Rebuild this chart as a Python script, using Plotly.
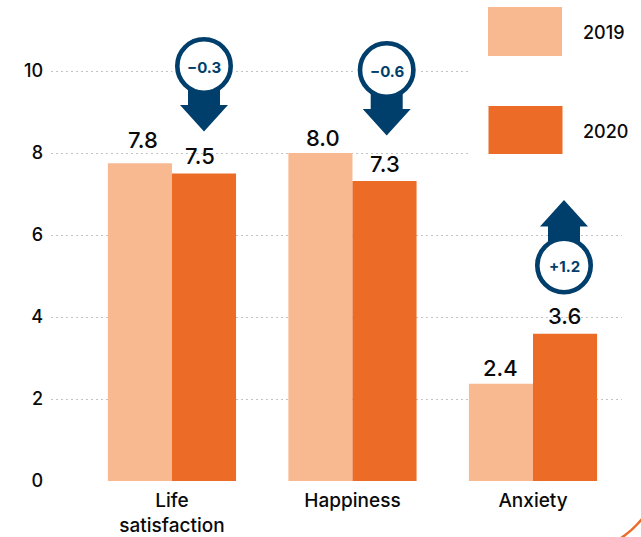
import plotly.graph_objects as go

categories = ["Life<br>satisfaction", "Happiness", "Anxiety"]
values_2019 = [7.75, 8.0, 2.37]
values_2020 = [7.5, 7.32, 3.59]
labels_2019 = ["7.8", "8.0", "2.4"]
labels_2020 = ["7.5", "7.3", "3.6"]
changes = ["−0.3", "−0.6", "+1.2"]
tick_values = [0, 2, 4, 6, 8, 10]
series_names = ["2019", "2020"]

LIGHT, DARK, NAVY = "#F8B991", "#EC6B27", "#003E6B"
FONT = "Inter"
W, H = 641, 537
L, R, T, B = 51, 19, 0, 56
PW, PH = W - L - R, H - T - B


def px(x):
    return (x - L) / PW


def py(y):
    return 1 - (y - T) / PH


fig = go.Figure()
for name, vals, col in zip(series_names, [values_2019, values_2020], [LIGHT, DARK]):
    fig.add_bar(x=categories, y=vals, name=name, marker=dict(color=col, line=dict(width=0)), cliponaxis=False)

shapes, annotations = [], []


def rect(x0, y0, x1, y1, col):
    shapes.append(dict(type="rect", xref="paper", yref="paper", x0=px(x0), x1=px(x1),
                       y0=py(y1), y1=py(y0), fillcolor=col, line=dict(width=0), layer="above"))


def poly(points, col):
    d = "M" + " L".join(f"{px(a):.5f},{py(b):.5f}" for a, b in points) + " Z"
    shapes.append(dict(type="path", xref="paper", yref="paper", path=d,
                       fillcolor=col, line=dict(width=0), layer="above"))


def circle(cx, cy, r, fill, line_col="rgba(0,0,0,0)", lw=0):
    shapes.append(dict(type="circle", xref="paper", yref="paper", x0=px(cx - r), x1=px(cx + r),
                       y0=py(cy + r), y1=py(cy - r), fillcolor=fill,
                       line=dict(color=line_col, width=lw), layer="above"))


def label(x, y, text, size, color, weight, anchor="center"):
    annotations.append(dict(xref="paper", yref="paper", x=px(x), y=py(y), text=text, showarrow=False,
                            xanchor=anchor, yanchor="middle",
                            font=dict(family=FONT, size=size, color=color, weight=weight)))


# value labels above the bars
for text, x, y in zip(labels_2019, [143, 323, 500], [140, 138, 368]):
    label(x, y, text, 22, "#0a0a0a", 500)
for text, x, y in zip(labels_2020, [200, 385, 564], [156, 164, 316]):
    label(x, y, text, 22, "#0a0a0a", 500)

# white panel that interrupts the top gridlines behind the key
rect(470, 0, 641, 180, "white")


def badge(cx, cy, text, s):
    # s = +1: arrow pointing down, s = -1: arrow pointing up
    circle(cx, cy, 32, "white")
    poly([(cx - 16, cy + s * 20), (cx + 16, cy + s * 20), (cx + 16, cy + s * 39), (cx + 24, cy + s * 39),
          (cx, cy + s * 65.5), (cx - 24, cy + s * 39), (cx - 16, cy + s * 39)], NAVY)
    circle(cx, cy, 26.7, "white", NAVY, 4.6)
    label(cx, cy + 1, text, 15, NAVY, 700)


badge(204, 66, changes[0], 1)
badge(386.7, 70, changes[1], 1)
badge(564, 265.5, changes[2], -1)

rect(488, 7, 562, 56, LIGHT)
rect(488.5, 106, 562.5, 154, DARK)
for name, yy in zip(series_names, [32, 131]):
    label(581, yy, name, 18, "#0a0a0a", 500, "left")

# corner fragment of an orange ring, cut off by the page edge
shapes.append(dict(type="path", xref="paper", yref="paper",
                   path=f"M{px(642):.5f},{py(519):.5f} Q{px(632):.5f},{py(531):.5f} {px(621):.5f},{py(538):.5f}",
                   line=dict(color=DARK, width=2.5), layer="above"))

fig.update_layout(
    width=W, height=H, margin=dict(l=L, r=R, t=T, b=B, pad=0), paper_bgcolor="white", plot_bgcolor="white",
    barmode="group", bargap=0.29, bargroupgap=0, showlegend=False, shapes=shapes, annotations=annotations,
    xaxis=dict(type="category", range=[-0.67, 2.493], showgrid=False, showline=False, ticks="",
               ticklabelstandoff=6,
               tickfont=dict(family=FONT, size=19, color="#0a0a0a", weight=500), automargin=False),
    yaxis=dict(range=[0, 481 / 41], tickvals=tick_values, showline=False, zeroline=False, ticks="",
               gridcolor="#C4C4C4", griddash="2px,3px", gridwidth=1, ticklabelstandoff=7,
               tickfont=dict(family=FONT, size=18, color="#0a0a0a", weight=500), automargin=False),
)
fig.write_html("out.html", config=dict(displayModeBar=False), post_script="document.body.style.margin='0';")
